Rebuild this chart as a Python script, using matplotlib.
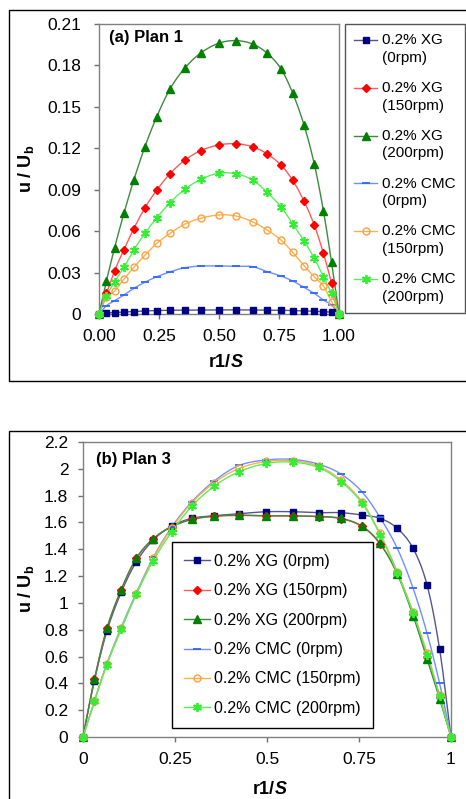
import numpy as np
import matplotlib
matplotlib.use('Agg')
import matplotlib.pyplot as plt
from matplotlib.lines import Line2D
from matplotlib.patches import Rectangle

plt.rcParams['font.family'] = ['Liberation Sans', 'DejaVu Sans']
plt.rcParams['mathtext.fontset'] = 'custom'
plt.rcParams['mathtext.rm'] = 'Liberation Sans'
plt.rcParams['mathtext.bf'] = 'Liberation Sans:bold'
plt.rcParams['mathtext.it'] = 'Liberation Sans:italic'

# radial positions r1/S (same for both plans)
r = [0, 0.031, 0.065, 0.104, 0.145, 0.191, 0.241, 0.296, 0.357, 0.424, 0.498,
     0.570, 0.640, 0.701, 0.758, 0.807, 0.854, 0.897, 0.935, 0.969, 1.0]

labels = ['0.2% XG (0rpm)', '0.2% XG (150rpm)', '0.2% XG (200rpm)',
          '0.2% CMC (0rpm)', '0.2% CMC (150rpm)', '0.2% CMC (200rpm)']

# (a) Plan 1
a_xg0 = [0, 0.0008, 0.0010, 0.0015, 0.0018, 0.0022, 0.0025, 0.0027, 0.0028, 0.0029, 0.0030,
         0.0030, 0.0029, 0.0028, 0.0027, 0.0025, 0.0023, 0.0020, 0.0017, 0.0013, 0]
a_xg150 = [0, 0.0150, 0.0314, 0.0466, 0.0618, 0.0768, 0.0898, 0.1016, 0.1113, 0.1183, 0.1224,
           0.1233, 0.1211, 0.1159, 0.1079, 0.0968, 0.0818, 0.0644, 0.0440, 0.0222, 0]
a_xg200 = [0, 0.024, 0.048, 0.073, 0.097, 0.121, 0.143, 0.163, 0.178, 0.189, 0.196,
           0.198, 0.1955, 0.1888, 0.1776, 0.160, 0.137, 0.1086, 0.0748, 0.0374, 0]
a_cmc0 = [0, 0.0060, 0.0096, 0.0138, 0.0186, 0.0230, 0.0270, 0.0305, 0.0335, 0.0347, 0.0348,
          0.0345, 0.0343, 0.0306, 0.0275, 0.0239, 0.0193, 0.0150, 0.0101, 0.0065, 0]
a_cmc150 = [0, 0.0120, 0.0167, 0.0253, 0.0338, 0.0425, 0.0512, 0.0584, 0.0650, 0.0693, 0.0717,
            0.0710, 0.0668, 0.0608, 0.0536, 0.0447, 0.0350, 0.0270, 0.0203, 0.0089, 0]
a_cmc200 = [0, 0.0130, 0.0234, 0.0338, 0.0463, 0.0584, 0.0697, 0.0806, 0.0903, 0.0975, 0.1019,
            0.1016, 0.0970, 0.0880, 0.0777, 0.0652, 0.0531, 0.0403, 0.0270, 0.0150, 0]

# (b) Plan 3
b_xg0 = [0, 0.42, 0.79, 1.08, 1.307, 1.469, 1.573, 1.631, 1.650, 1.665, 1.680,
         1.680, 1.673, 1.673, 1.655, 1.631, 1.556, 1.407, 1.133, 0.656, 0]
b_xg150 = [0, 0.43, 0.81, 1.10, 1.333, 1.479, 1.568, 1.623, 1.645, 1.652, 1.648,
           1.648, 1.643, 1.628, 1.570, 1.440, 1.225, 0.920, 0.600, 0.300, 0]
b_xg200 = [0, 0.43, 0.81, 1.10, 1.333, 1.479, 1.568, 1.623, 1.648, 1.655, 1.650,
           1.650, 1.645, 1.631, 1.573, 1.444, 1.215, 0.905, 0.580, 0.285, 0]
b_cmc0 = [0, 0.27, 0.55, 0.82, 1.075, 1.340, 1.565, 1.755, 1.910, 2.025, 2.066,
          2.070, 2.035, 1.961, 1.829, 1.638, 1.407, 1.109, 0.773, 0.400, 0]
b_cmc150 = [0, 0.27, 0.545, 0.81, 1.066, 1.333, 1.556, 1.747, 1.897, 2.003, 2.055,
            2.060, 2.020, 1.916, 1.755, 1.519, 1.233, 0.934, 0.625, 0.313, 0]
b_cmc200 = [0, 0.265, 0.540, 0.805, 1.066, 1.315, 1.531, 1.722, 1.872, 1.978, 2.040,
            2.050, 2.010, 1.905, 1.745, 1.510, 1.225, 0.925, 0.615, 0.305, 0]

a_yticks = [0, 0.03, 0.06, 0.09, 0.12, 0.15, 0.18, 0.21]
a_yticklabels = ['0', '0.03', '0.06', '0.09', '0.12', '0.15', '0.18', '0.21']
a_xticks = [0, 0.25, 0.5, 0.75, 1.0]
a_xticklabels = ['0.00', '0.25', '0.50', '0.75', '1.00']
b_yticks = [0, 0.2, 0.4, 0.6, 0.8, 1.0, 1.2, 1.4, 1.6, 1.8, 2.0, 2.2]
b_yticklabels = ['0', '0.2', '0.4', '0.6', '0.8', '1', '1.2', '1.4', '1.6', '1.8', '2', '2.2']
b_xticks = [0, 0.25, 0.5, 0.75, 1.0]
b_xticklabels = ['0', '0.25', '0.5', '0.75', '1']

# marker, size, face, edge, line colour
styles = [
    dict(marker='s', ms=4.5, mfc='#000080', mec='#000080', lc='#55558f'),
    dict(marker='D', ms=3.8, mfc='#ff0000', mec='#ff0000', lc='#ff5a5a'),
    dict(marker='^', ms=5.5, mfc='#008000', mec='#008000', lc='#3d8a3d'),
    dict(marker='_', ms=5.5, mfc='#3366ff', mec='#3366ff', lc='#6f8fff'),
    dict(marker='o', ms=5.0, mfc='none', mec='#ffa040', lc='#ffb04a'),
    dict(marker=(6, 2, 0), ms=6.5, mfc='#33ee33', mec='#33ee33', lc='#5aee5a'),
]


def smooth(x, y, n=12):
    # Catmull-Rom curve through the points, like Excel's smoothed line
    p = np.column_stack([x, y]).astype(float)
    p = np.vstack([2 * p[0] - p[1], p, 2 * p[-1] - p[-2]])
    t = np.linspace(0, 1, n, endpoint=False)[:, None]
    out = []
    for i in range(len(p) - 3):
        p0, p1, p2, p3 = p[i], p[i + 1], p[i + 2], p[i + 3]
        out.append(0.5 * (2 * p1 + (-p0 + p2) * t + (2 * p0 - 5 * p1 + 4 * p2 - p3) * t ** 2
                          + (-p0 + 3 * p1 - 3 * p2 + p3) * t ** 3))
    out.append(p[-2][None, :])
    out = np.vstack(out)
    return out[:, 0], out[:, 1]


def mew(st):
    return 1.3 if st['marker'] in ('_', (6, 2, 0)) else 1.0


def draw(ax, series):
    for y, st in zip(series, styles):
        xs, ys = smooth(r, y)
        ax.plot(xs, ys, color=st['lc'], lw=1.0, clip_on=False, zorder=2)
        ax.plot(r, y, ls='none', marker=st['marker'], ms=st['ms'], mfc=st['mfc'],
                mec=st['mec'], mew=mew(st), clip_on=False, zorder=3)


def handles():
    return [Line2D([], [], color=st['lc'], lw=1.0, marker=st['marker'], ms=st['ms'],
                   mfc=st['mfc'], mec=st['mec'], mew=mew(st)) for st in styles]


def style_axes(ax, pad_y, pad_x):
    for s in ax.spines.values():
        s.set_color('#808080')
        s.set_linewidth(1.0)
    ax.tick_params(direction='out', length=3.6, width=1.0, color='#707070',
                   labelsize=12.5, labelcolor='black')
    ax.tick_params(axis='y', pad=pad_y)
    ax.tick_params(axis='x', pad=pad_x)


W, H = 466, 799
fig = plt.figure(figsize=(W / 100, H / 100), dpi=100)

# outer chart frames
fig.add_artist(Rectangle((9 / W, 1 - 381 / H), 1.0, 371 / H, transform=fig.transFigure,
                         fill=False, ec='black', lw=1.0))
fig.add_artist(Rectangle((9 / W, -0.05), 1.0, 1 - 431 / H + 0.05, transform=fig.transFigure,
                         fill=False, ec='black', lw=1.0))

# (a) Plan 1
ax1 = fig.add_axes([99 / W, 1 - 314 / H, 240 / W, 290 / H])
draw(ax1, [a_xg0, a_xg150, a_xg200, a_cmc0, a_cmc150, a_cmc200])
ax1.set_xlim(0, 1)
ax1.set_ylim(0, 0.21)
ax1.set_yticks(a_yticks)
ax1.set_yticklabels(a_yticklabels)
ax1.set_xticks(a_xticks)
ax1.set_xticklabels(a_xticklabels)
style_axes(ax1, 9, 7)
ax1.text(0.042, 0.952, '(a) Plan 1', transform=ax1.transAxes, fontsize=12,
         fontweight='bold', ha='left', va='center')

leg1 = fig.legend(handles(), [l.replace(' (', '\n(') for l in labels], loc='upper left',
                  bbox_to_anchor=(345 / W, 1 - 24 / H), borderaxespad=0, fontsize=11,
                  fancybox=False, edgecolor='#555555', framealpha=1, handlelength=1.5,
                  handleheight=1.25, handletextpad=0.3, borderpad=0.62, labelspacing=1.06)
leg1.get_frame().set_linewidth(1.0)
for t in leg1.get_texts():
    t.set_linespacing(1.32)
# put each marker next to the first line of its two-line label
for col in leg1._legend_handle_box.get_children():
    for item in col.get_children():
        item.align = 'top'

fig.text(26 / W, 1 - 169 / H, r'u / U$_\mathbf{b}$', rotation=90, fontsize=13,
         fontweight='bold', ha='center', va='center')
fig.text(231 / W, 1 - 363 / H, 'r1/', fontsize=13, fontweight='bold', ha='right', va='center')
fig.text(231 / W, 1 - 363 / H, 'S', fontsize=13, fontweight='bold', style='italic',
         ha='left', va='center')

# (b) Plan 3
ax2 = fig.add_axes([83 / W, 1 - 737 / H, 368 / W, 295 / H])
draw(ax2, [b_xg0, b_xg150, b_xg200, b_cmc0, b_cmc150, b_cmc200])
ax2.set_xlim(0, 1)
ax2.set_ylim(0, 2.2)
ax2.set_yticks(b_yticks)
ax2.set_yticklabels(b_yticklabels)
ax2.set_xticks(b_xticks)
ax2.set_xticklabels(b_xticklabels)
style_axes(ax2, 7, 7)
ax2.text(0.035, 0.942, '(b) Plan 3', transform=ax2.transAxes, fontsize=12,
         fontweight='bold', ha='left', va='center')

leg2 = ax2.legend(handles(), labels, loc='upper left',
                  bbox_to_anchor=(172 / W, 1 - 542 / H), bbox_transform=fig.transFigure,
                  borderaxespad=0, fontsize=11.5, fancybox=False, edgecolor='black',
                  framealpha=1, handlelength=1.6, handletextpad=0.3, borderpad=0.75,
                  labelspacing=0.9)
leg2.get_frame().set_linewidth(1.0)

fig.text(26 / W, 1 - 589 / H, r'u / U$_\mathbf{b}$', rotation=90, fontsize=13,
         fontweight='bold', ha='center', va='center')
fig.text(275 / W, 1 - 790 / H, 'r1/', fontsize=13, fontweight='bold', ha='right', va='center')
fig.text(275 / W, 1 - 790 / H, 'S', fontsize=13, fontweight='bold', style='italic',
         ha='left', va='center')

fig.savefig('out.png', dpi=100)
